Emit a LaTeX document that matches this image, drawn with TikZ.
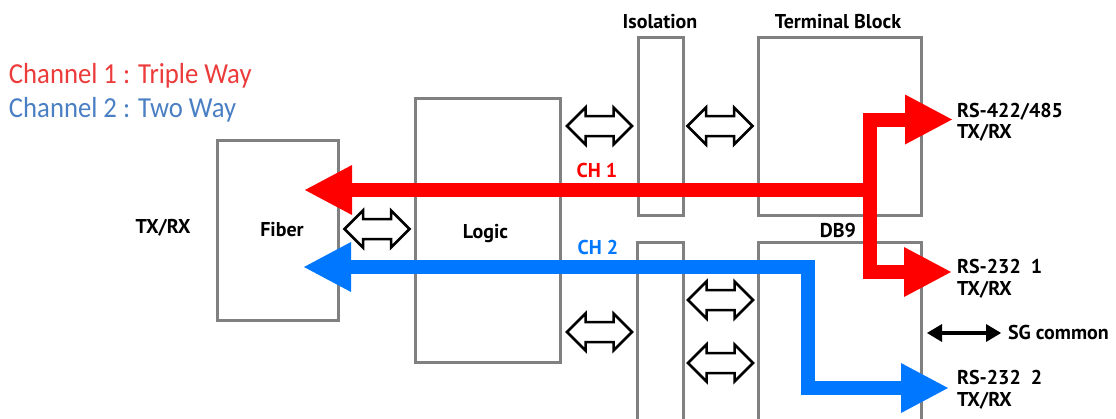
\documentclass[tikz,border=0pt]{standalone}
\usepackage{fontspec}
\setmainfont{PT Sans}
\newfontfamily\legendfont[FakeStretch=0.92]{Carlito}
\usetikzlibrary{arrows.meta,calc}
\definecolor{boxgray}{HTML}{808080}
\definecolor{chred}{HTML}{FF0000}
\definecolor{chblue}{HTML}{0077FF}
\definecolor{legred}{HTML}{EC3B3B}
\definecolor{legblue}{HTML}{4A7FC4}
\tikzset{
  box/.style={draw=boxgray, line width=3pt, inner sep=0pt, outer sep=0pt},
  lbl/.style={font=\bfseries\fontsize{20}{21.5}\selectfont, inner sep=0pt, outer sep=0pt, align=left},
  legend/.style={font=\legendfont\fontsize{29}{30}\selectfont, inner sep=0pt, outer sep=0pt, anchor=base west},
  bigtip/.tip={Triangle[length=47pt,width=50pt,line width=0pt]},
  sgtip/.tip={Triangle[length=15pt,width=18pt,line width=0pt]},
  redarrow/.style={draw=chred, line width=14pt, line join=miter},
  bluearrow/.style={draw=chblue, line width=14pt, line join=miter},
  sgarrow/.style={draw=black, line width=4.5pt, sgtip-sgtip},
  dblarrow/.pic={
    \draw[black, line width=2.5pt, fill=white, line join=miter]
      (-32.5,0) -- (-14,-18.5) -- (-14,-10) -- (14,-10) -- (14,-18.5) -- (32.5,0)
      -- (14,18.5) -- (14,10) -- (-14,10) -- (-14,18.5) -- cycle;
  }
}
\begin{document}
\begin{tikzpicture}[x=1pt,y=-1pt]
\useasboundingbox (0,0) rectangle (1116,418);
\begin{scope}
\clip (0,0) rectangle (1116,418);
% boxes
\node[box, minimum width=120.6pt, minimum height=179.3pt] (fiber) at (278,230.35) {};
\node[box, minimum width=144.3pt, minimum height=264.3pt] (logic) at (487.85,230.15) {};
\node[box, minimum width=45pt, minimum height=178pt] (isoup) at (660.5,126) {};
\node[box, minimum width=45.5pt, minimum height=200pt] (isolow) at (660.25,342.3) {};
\node[box, minimum width=163pt, minimum height=178pt] (tb) at (840.2,126) {};
\node[box, minimum width=163pt, minimum height=200pt] (db9) at (840.2,342.3) {};
\end{scope}

% legend
\node[legend, text=legred] (leg1) at (9,83.3) {Channel 1 : Triple Way};
\node[legend, text=legblue] (leg2) at (9,117) {Channel 2 : Two Way};

% labels
\node[lbl, anchor=base] (fiberl) at (282,236) {Fiber};
\node[lbl, anchor=base] (logicl) at (485.5,238) {Logic};
\node[lbl, anchor=base] (txrxl) at (163,233) {TX/RX};
\node[lbl, anchor=base] (isol) at (660,28.3) {Isolation};
\node[lbl, anchor=base] (tbl) at (838,28.3) {Terminal Block};
\node[lbl, anchor=base] (db9l) at (838,237) {DB9};
\node[lbl, anchor=base, text=chred] (ch1) at (597,177) {CH 1};
\node[lbl, anchor=base, text=chblue] (ch2) at (598,254) {CH 2};
\node[lbl, anchor=west] (rs422) at (957,122.5) {RS-422/485\\TX/RX};
\node[lbl, anchor=west] (rs1) at (957,279) {RS-232\ \ 1\\TX/RX};
\node[lbl, anchor=west] (rs2) at (957,390) {RS-232\ \ 2\\TX/RX};
\node[lbl, anchor=base west] (sg) at (1008,339.3) {SG common};

% coordinates for thick channel arrows
\coordinate (redtipF) at (305,190);
\coordinate (redjoin) at (870,190);
\coordinate (bluetipF) at (304,267);
\coordinate (rtip1) at ($(rs422.west)+(-5,-2.5)$);
\coordinate (rtip2) at ($(rs1.west)+(-6,-7)$);
\coordinate (btip2) at ($(rs2.west)+(-9,-2)$);

% channel 2 (blue)
\draw[bluearrow, bigtip-bigtip] (bluetipF) -- (bluetipF -| 808,0) -- (808,388) -- (btip2 |- 0,388);
% channel 1 (red)
\draw[redarrow, bigtip-bigtip] (rtip2 |- 0,272) -- (870,272) -- (870,119.5) -- (rtip1 |- 0,119.5);
\draw[redarrow, -bigtip] (redjoin) -- (redtipF);

% SG common
\coordinate (sgL) at (927,333);
\draw[sgarrow] (sgL) -- ($(sg.west |- sgL)+(-7,0)$);

% interface double arrows
\pic at (377,229) {dblarrow};
\pic at (599.5,126) {dblarrow};
\pic at (720,126) {dblarrow};
\pic at (599.5,332) {dblarrow};
\pic at (720.5,300) {dblarrow};
\pic at (720.5,363) {dblarrow};
\end{tikzpicture}
\end{document}
